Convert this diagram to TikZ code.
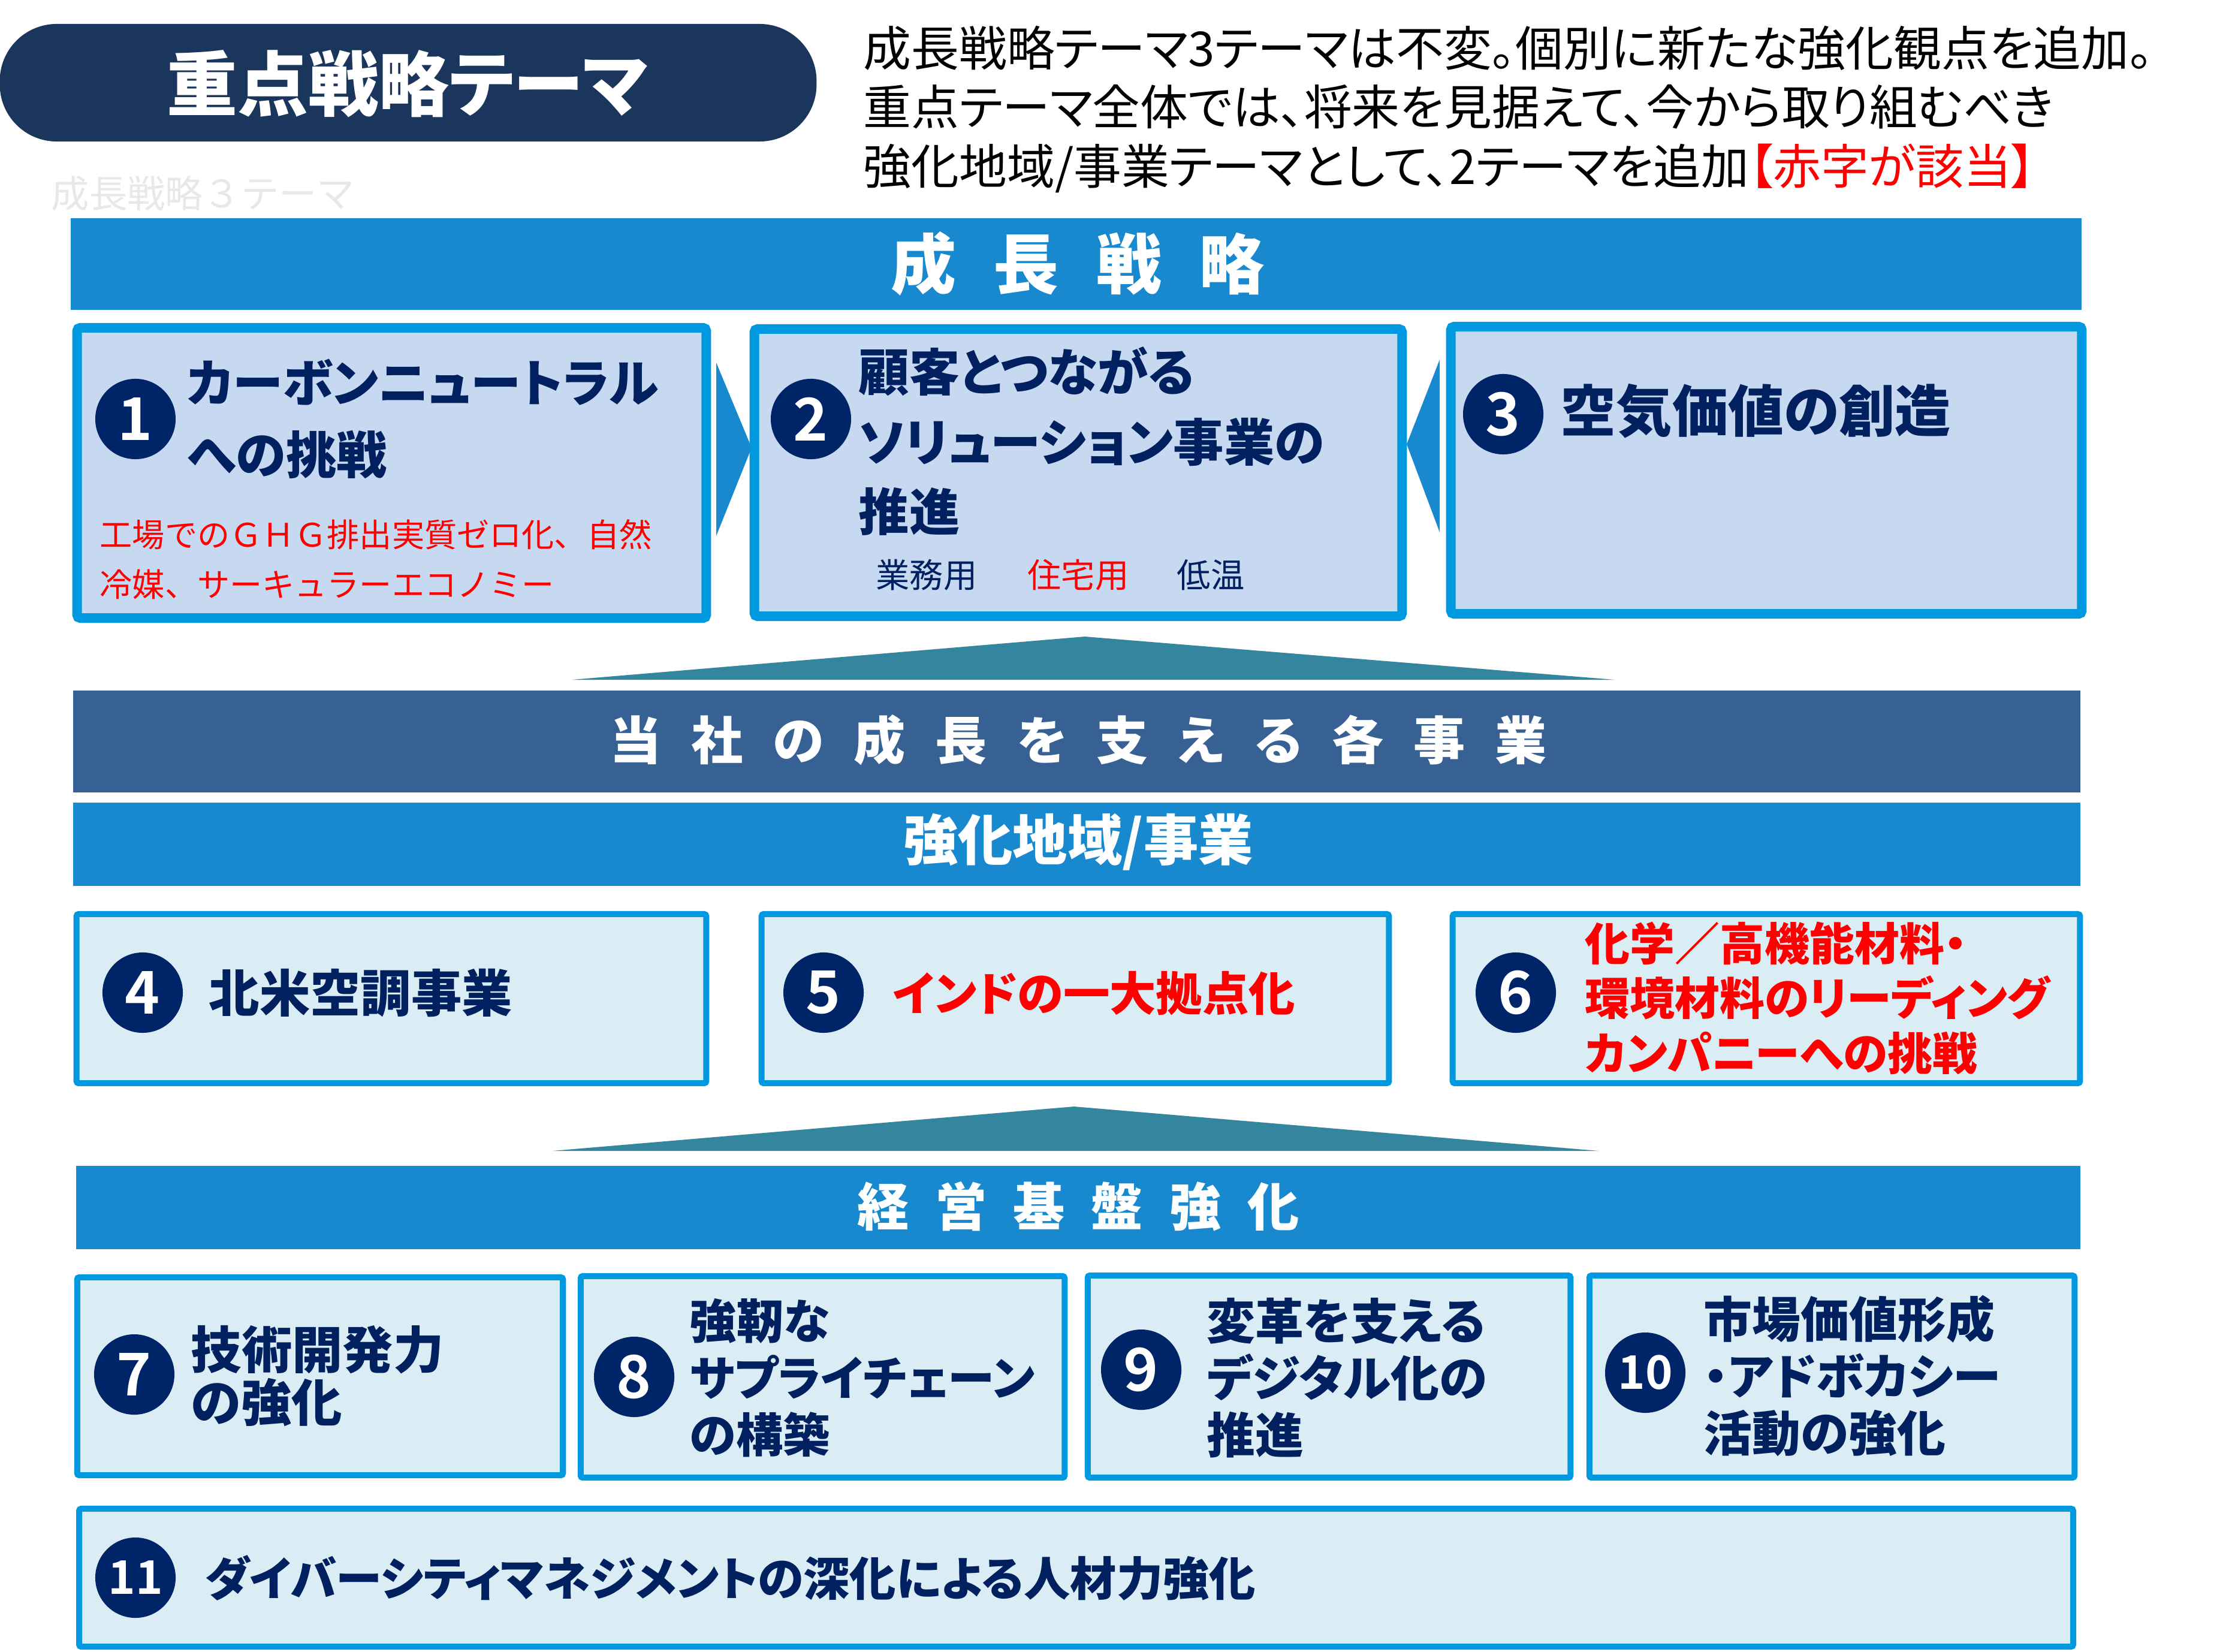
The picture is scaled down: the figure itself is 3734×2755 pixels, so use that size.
\documentclass[tikz,border=0pt]{standalone}
\usepackage{fontspec}
\setmainfont{Noto Sans CJK JP}[BoldFont={Noto Sans CJK JP Bold}]
\newfontfamily\jpp{Noto Sans CJK JP}[BoldFont={Noto Sans CJK JP Bold},RawFeature=+palt]
\newfontfamily\jpk{Noto Sans CJK JP Black}[RawFeature=+palt]
\definecolor{navyT}{RGB}{0,32,96}
\definecolor{navyC}{RGB}{0,36,104}
\definecolor{pillC}{RGB}{27,54,93}
\definecolor{bannerB}{RGB}{24,136,207}
\definecolor{bannerD}{RGB}{56,97,147}
\definecolor{borderB}{RGB}{0,153,224}
\definecolor{fillA}{RGB}{198,217,240}
\definecolor{fillB}{RGB}{219,237,244}
\definecolor{tealC}{RGB}{51,134,158}
\definecolor{redC}{RGB}{255,0,0}
\tikzset{
  boxA/.style={draw=borderB, line width=4.55pt, fill=fillA, inner sep=0pt, rounded corners=1.5pt},
  boxB/.style={draw=borderB, line width=2.85pt, fill=fillB, inner sep=0pt, rounded corners=1pt},
  band/.style={inner sep=0pt, draw=none},
  chev/.style={fill=bannerB},
  roof/.style={fill=tealC},
  num/.style={circle, fill=navyC, minimum size=1.34cm, inner sep=0pt, text=white,
    font=\jpp\bfseries\fontsize{28}{28}\selectfont},
  numsm/.style={num, font=\jpp\bfseries\fontsize{22}{22}\selectfont},
  head/.style={inner sep=0pt, anchor=west, align=left, text=navyT},
  bandtxt/.style={inner sep=0pt, text=white}
}
\begin{document}
\begin{tikzpicture}[x=0.01cm,y=-0.01cm]
\useasboundingbox (0,0) rectangle (3734,2755);
\fill[white] (0,0) rectangle (3734,2755);

% title pill
\node[fill=pillC, rounded corners=0.95cm, minimum width=13.62cm, minimum height=1.96cm, inner sep=0pt] (pill) at (681,138) {};
\node[bandtxt, font=\jpk\fontsize{33.5}{33.5}\selectfont] (pilltxt) at (680,140) {重点戦略テーマ};

% faint ghost text
\node[anchor=west, inner sep=0pt, text=gray!18, font=\fontsize{18}{18}\selectfont] (ghost) at (85,323) {成長戦略３テーマ};

% header description
\node[anchor=west, inner sep=0pt, align=left, text=black, font=\jpp\fontsize{22.7}{28}\selectfont] (hdr) at (1440,182)
 {成長戦略テーマ3テーマは不変。個別に新たな強化観点を追加。\\重点テーマ全体では、将来を見据えて、今から取り組むべき\\強化地域/事業テーマとして、2テーマを追加\textcolor{redC}{【赤字が該当】}};

% growth strategy banner
\node[band, fill=bannerB, minimum width=33.53cm, minimum height=1.53cm] (ban1) at (1795.5,440.5) {};
\node[bandtxt, font=\jpk\fontsize{31}{31}\selectfont] (ban1t) at (1798,440) {成\hspace{0.62cm}長\hspace{0.62cm}戦\hspace{0.62cm}略};

% chevrons
\fill[chev] (1195,605) -- (1254,747) -- (1195,894) -- cycle;
\fill[chev] (2402,600) -- (2347,741) -- (2402,888) -- cycle;

% boxes 1-3
\node[boxA, minimum width=10.49cm, minimum height=4.84cm] (b1) at (653.5,789) {};
\node[boxA, minimum width=10.80cm, minimum height=4.79cm] (b2) at (1799,788.5) {};
\node[boxA, minimum width=10.52cm, minimum height=4.79cm] (b3) at (2947,784.5) {};

\node[num] (n1) at (226,699) {1};
\node[head, font=\jpk\fontsize{24}{34}\selectfont] (t1) at (311,699) {カーボンニュートラル\\への挑戦};
\node[head, text=redC, font=\fontsize{15.4}{23.6}\selectfont] (r1) at (166,933) {工場でのＧＨＧ排出実質ゼロ化、自然\\冷媒、サーキュラーエコノミー};

\node[num] (n2) at (1353,699) {2};
\node[head, font=\jpk\fontsize{24}{33}\selectfont] (t2) at (1432,736) {顧客とつながる\\ソリューション事業の\\推進};
\node[head, font=\fontsize{16}{16}\selectfont] (s2a) at (1461,959) {業務用};
\node[head, text=redC, font=\fontsize{16}{16}\selectfont] (s2b) at (1714,959) {住宅用};
\node[head, font=\fontsize{16}{16}\selectfont] (s2c) at (1963,959) {低温};

\node[num] (n3) at (2508,691) {3};
\node[head, font=\jpk\fontsize{26.5}{30}\selectfont] (t3) at (2603,686) {空気価値の創造};

% roof 1
\fill[roof] (1810,1062) -- (2694,1134) -- (954,1134) -- cycle;

% banners
\node[band, fill=bannerD, minimum width=33.47cm, minimum height=1.70cm] (ban2) at (1796.5,1237) {};
\node[bandtxt, font=\jpk\fontsize{24.5}{24.5}\selectfont] (ban2t) at (1799,1235)
 {当\hspace{0.5cm}社\hspace{0.5cm}の\hspace{0.5cm}成\hspace{0.5cm}長\hspace{0.5cm}を\hspace{0.5cm}支\hspace{0.5cm}え\hspace{0.5cm}る\hspace{0.5cm}各\hspace{0.5cm}事\hspace{0.5cm}業};
\node[band, fill=bannerB, minimum width=33.47cm, minimum height=1.39cm] (ban3) at (1796.5,1408.5) {};
\node[bandtxt, font=\jpk\fontsize{26}{26}\selectfont] (ban3t) at (1799,1405) {強化地域/事業};

% boxes 4-6
\node[boxB, minimum width=10.50cm, minimum height=2.82cm] (b4) at (653,1666) {};
\node[boxB, minimum width=10.46cm, minimum height=2.82cm] (b5) at (1794,1666) {};
\node[boxB, minimum width=10.46cm, minimum height=2.82cm] (b6) at (2947,1666) {};

\node[num] (n4) at (238,1656) {4};
\node[head, font=\jpk\fontsize{24}{24}\selectfont] (t4) at (348,1657) {北米空調事業};
\node[num] (n5) at (1374,1656) {5};
\node[head, text=redC, font=\jpk\fontsize{22}{22}\selectfont] (t5) at (1489,1657) {インドの一大拠点化};
\node[num] (n6) at (2529,1656) {6};
\node[head, text=redC, font=\jpk\fontsize{21.3}{26}\selectfont] (t6) at (2644,1665) {化学／高機能材料・\\環境材料のリーディング\\カンパニーへの挑戦};

% roof 2
\fill[roof] (1792,1846) -- (2667,1920) -- (922,1920) -- cycle;

\node[band, fill=bannerB, minimum width=33.42cm, minimum height=1.39cm] (ban4) at (1799,2014.5) {};
\node[bandtxt, font=\jpk\fontsize{24.5}{24.5}\selectfont] (ban4t) at (1799,2013)
 {経\hspace{0.44cm}営\hspace{0.44cm}基\hspace{0.44cm}盤\hspace{0.44cm}強\hspace{0.44cm}化};

% boxes 7-10
\node[boxB, minimum width=8.10cm, minimum height=3.30cm] (b7) at (534,2296) {};
\node[boxB, minimum width=8.07cm, minimum height=3.36cm] (b8) at (1372.5,2297) {};
\node[boxB, minimum width=8.05cm, minimum height=3.37cm] (b9) at (2217.5,2296.5) {};
\node[boxB, minimum width=8.09cm, minimum height=3.37cm] (b10) at (3056.5,2296.5) {};

\node[num] (n7) at (224,2293) {7};
\node[head, font=\jpk\fontsize{24}{25}\selectfont] (t7) at (318,2296) {技術開発力\\の強化};
\node[num] (n8) at (1058,2297) {8};
\node[head, font=\jpk\fontsize{22.3}{27}\selectfont] (t8) at (1150,2299) {強靭な\\サプライチェーン\\の構築};
\node[num] (n9) at (1904,2285) {9};
\node[head, font=\jpk\fontsize{23}{27}\selectfont] (t9) at (2013,2299) {変革を支える\\デジタル化の\\推進};
\node[numsm] (n10) at (2745,2290) {10};
\node[head, font=\jpk\fontsize{23}{27}\selectfont] (t10) at (2842,2295) {市場価値形成\\・アドボカシー\\活動の強化};

% box 11
\node[boxB, minimum width=33.25cm, minimum height=2.30cm] (b11) at (1795.5,2632) {};
\node[numsm] (n11) at (226,2632) {11};
\node[head, font=\jpk\fontsize{22}{22}\selectfont] (t11) at (341,2632) {ダイバーシティマネジメントの深化による人材力強化};
\end{tikzpicture}
\end{document}
